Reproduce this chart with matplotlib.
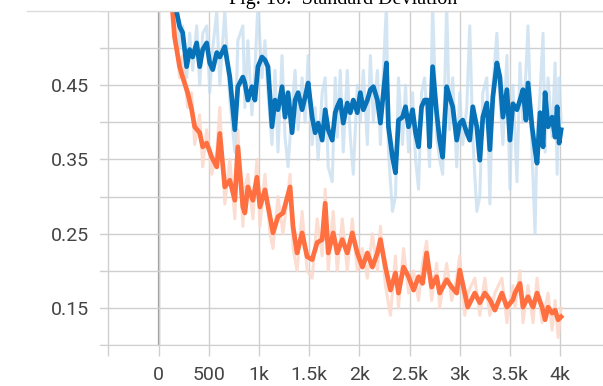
import matplotlib
matplotlib.use('Agg')
import matplotlib.pyplot as plt
from matplotlib.lines import Line2D
from matplotlib.ticker import FixedLocator, FuncFormatter

# training steps / std values
blue_steps = [150, 180, 210, 240, 280, 310, 340, 380, 410, 440, 480, 510, 540, 580, 610, 660, 710, 760, 790, 840,
              860, 890, 930, 960, 990, 1030, 1060, 1090, 1130, 1160, 1190, 1230, 1260, 1290, 1330, 1360, 1390, 1430,
              1460, 1490, 1530, 1560, 1590, 1630, 1660, 1690, 1730, 1760, 1780, 1810, 1840, 1880, 1910, 1940, 1980,
              2010, 2040, 2080, 2110, 2140, 2180, 2210, 2240, 2270, 2290, 2330, 2360, 2390, 2430, 2460, 2490, 2530,
              2560, 2590, 2620, 2650, 2680, 2700, 2730, 2770, 2800, 2830, 2870, 2900, 2930, 2970, 3000, 3030, 3070,
              3100, 3130, 3170, 3200, 3230, 3270, 3300, 3330, 3370, 3400, 3430, 3470, 3500, 3530, 3570, 3600, 3630,
              3660, 3680, 3720, 3750, 3770, 3800, 3830, 3850, 3880, 3920, 3950, 3970, 3990, 4010]
blue_smooth = [0.600, 0.549, 0.529, 0.521, 0.475, 0.498, 0.488, 0.507, 0.475, 0.498, 0.507, 0.480, 0.471, 0.494,
               0.488, 0.502, 0.461, 0.390, 0.448, 0.461, 0.453, 0.430, 0.448, 0.430, 0.475, 0.488, 0.484, 0.475,
               0.394, 0.430, 0.417, 0.448, 0.407, 0.440, 0.386, 0.430, 0.440, 0.417, 0.434, 0.453, 0.407, 0.386,
               0.399, 0.376, 0.417, 0.390, 0.376, 0.413, 0.421, 0.430, 0.399, 0.426, 0.413, 0.430, 0.413, 0.440,
               0.417, 0.430, 0.444, 0.448, 0.430, 0.399, 0.440, 0.480, 0.394, 0.353, 0.332, 0.403, 0.407, 0.421,
               0.394, 0.417, 0.386, 0.367, 0.421, 0.430, 0.430, 0.367, 0.475, 0.413, 0.376, 0.353, 0.448, 0.434,
               0.421, 0.376, 0.399, 0.403, 0.386, 0.376, 0.421, 0.394, 0.349, 0.407, 0.426, 0.363, 0.434, 0.480,
               0.461, 0.407, 0.444, 0.376, 0.425, 0.417, 0.430, 0.444, 0.403, 0.453, 0.394, 0.363, 0.345, 0.413,
               0.367, 0.440, 0.394, 0.407, 0.380, 0.421, 0.372, 0.390]
blue_raw = [0.62, 0.56, 0.50, 0.53, 0.46, 0.52, 0.47, 0.53, 0.45, 0.52, 0.53, 0.44, 0.50, 0.55, 0.45, 0.55, 0.43,
            0.36, 0.51, 0.53, 0.42, 0.51, 0.41, 0.47, 0.56, 0.46, 0.51, 0.44, 0.37, 0.47, 0.36, 0.49, 0.38, 0.34,
            0.42, 0.47, 0.39, 0.46, 0.40, 0.49, 0.37, 0.42, 0.35, 0.44, 0.46, 0.34, 0.32, 0.46, 0.38, 0.47, 0.36,
            0.47, 0.38, 0.33, 0.45, 0.40, 0.47, 0.37, 0.49, 0.40, 0.47, 0.37, 0.47, 0.56, 0.36, 0.28, 0.30, 0.46,
            0.37, 0.45, 0.36, 0.44, 0.35, 0.31, 0.44, 0.46, 0.39, 0.34, 0.56, 0.38, 0.35, 0.33, 0.56, 0.39, 0.46,
            0.34, 0.44, 0.37, 0.42, 0.53, 0.38, 0.28, 0.30, 0.44, 0.46, 0.29, 0.45, 0.52, 0.43, 0.37, 0.49, 0.31,
            0.45, 0.32, 0.48, 0.40, 0.47, 0.53, 0.36, 0.25, 0.38, 0.44, 0.52, 0.36, 0.46, 0.38, 0.48, 0.33, 0.46,
            0.40]

orange_steps = [110, 160, 210, 240, 290, 330, 360, 410, 440, 480, 530, 580, 610, 660, 710, 760, 790, 840, 860, 890,
                940, 980, 1010, 1060, 1110, 1140, 1190, 1240, 1310, 1340, 1380, 1430, 1480, 1530, 1580, 1630, 1660,
                1690, 1740, 1780, 1830, 1880, 1930, 1980, 2030, 2080, 2130, 2180, 2210, 2260, 2310, 2360, 2390, 2440,
                2490, 2540, 2590, 2630, 2670, 2720, 2770, 2800, 2870, 2920, 2970, 3000, 3050, 3080, 3150, 3200, 3250,
                3300, 3350, 3420, 3470, 3530, 3550, 3600, 3630, 3680, 3730, 3770, 3820, 3850, 3880, 3920, 3950, 3980,
                4010]
orange_smooth = [0.600, 0.515, 0.475, 0.461, 0.440, 0.417, 0.394, 0.386, 0.367, 0.372, 0.353, 0.340, 0.385, 0.313,
                 0.322, 0.295, 0.367, 0.286, 0.278, 0.313, 0.295, 0.326, 0.286, 0.309, 0.273, 0.251, 0.273, 0.278,
                 0.313, 0.259, 0.224, 0.251, 0.219, 0.215, 0.238, 0.242, 0.291, 0.224, 0.251, 0.224, 0.242, 0.224,
                 0.251, 0.224, 0.205, 0.224, 0.205, 0.224, 0.242, 0.205, 0.174, 0.197, 0.170, 0.205, 0.192, 0.174,
                 0.192, 0.183, 0.224, 0.178, 0.192, 0.170, 0.188, 0.178, 0.170, 0.201, 0.170, 0.151, 0.170, 0.157,
                 0.170, 0.161, 0.147, 0.170, 0.151, 0.161, 0.170, 0.183, 0.151, 0.165, 0.151, 0.170, 0.151, 0.134,
                 0.151, 0.143, 0.147, 0.134, 0.138]
orange_raw = [0.62, 0.53, 0.46, 0.49, 0.42, 0.44, 0.37, 0.41, 0.34, 0.39, 0.33, 0.36, 0.42, 0.29, 0.35, 0.27, 0.39,
              0.26, 0.31, 0.33, 0.27, 0.35, 0.26, 0.33, 0.25, 0.23, 0.30, 0.25, 0.33, 0.23, 0.20, 0.28, 0.20, 0.19,
              0.27, 0.22, 0.31, 0.20, 0.28, 0.20, 0.27, 0.20, 0.27, 0.20, 0.23, 0.19, 0.25, 0.20, 0.26, 0.18, 0.14,
              0.22, 0.15, 0.23, 0.17, 0.20, 0.16, 0.21, 0.24, 0.16, 0.21, 0.15, 0.21, 0.16, 0.19, 0.22, 0.14, 0.17,
              0.19, 0.14, 0.19, 0.14, 0.17, 0.19, 0.13, 0.18, 0.15, 0.20, 0.13, 0.18, 0.13, 0.19, 0.13, 0.15, 0.17,
              0.12, 0.16, 0.11, 0.15]

xticks = [-500, 0, 500, 1000, 1500, 2000, 2500, 3000, 3500, 4000]
xlabels = ['', '0', '500', '1k', '1.5k', '2k', '2.5k', '3k', '3.5k', '4k']
yticks = [0.10, 0.15, 0.20, 0.25, 0.30, 0.35, 0.40, 0.45, 0.50, 0.55]
ylabeled = [0.15, 0.25, 0.35, 0.45]

plt.rcParams['font.family'] = ['Roboto', 'DejaVu Sans']

fig = plt.figure(figsize=(6.03, 3.86), dpi=100)
ax = fig.add_axes([100/603, 41/386, 503/603, 334/386])

ax.plot(orange_steps, orange_raw, '-', color='#fcd8ca', lw=2.2, alpha=0.85)
ax.plot(blue_steps, blue_raw, '-', color='#c5ddef', lw=2.2, alpha=0.75)
ax.plot(orange_steps, orange_smooth, '-', color='#ff6f3f', lw=3.4)
ax.plot(blue_steps, blue_smooth, '-', color='#0872b8', lw=3.4)

ax.set_xlim(-583, 4427)
ax.set_ylim(0.10, 0.55)
ax.xaxis.set_major_locator(FixedLocator(xticks))
ax.set_xticklabels(xlabels)
ax.yaxis.set_major_locator(FixedLocator(yticks))
ax.yaxis.set_major_formatter(FuncFormatter(
    lambda v, p: '%.2f' % v if any(abs(v - t) < 1e-6 for t in ylabeled) else ''))

ax.grid(True, color='#cfcfcf', lw=1.0, zorder=0)
ax.set_axisbelow(True)
ax.axvline(0, color='#999999', lw=1.6, zorder=0.5)
for s in ['top', 'right', 'left']:
    ax.spines[s].set_visible(False)
ax.spines['bottom'].set_color('#cfcfcf')
ax.tick_params(axis='x', length=8, width=1.0, color='#cfcfcf', pad=7, labelsize=14, labelcolor='#444444')
ax.tick_params(axis='y', length=0, pad=8, labelsize=14, labelcolor='#444444')

# top rule and the caption, cut off at the top as in the source image
fig.add_artist(Line2D([27/603, 1.0], [375/386, 375/386], color='#dcdcdc', lw=1.0))
fig.text(343/603, 382/386, 'Fig. 10:  Standard Deviation', family='Liberation Serif',
         fontsize=14.5, ha='center', va='baseline', color='black')

fig.savefig('out.png', dpi=100)
